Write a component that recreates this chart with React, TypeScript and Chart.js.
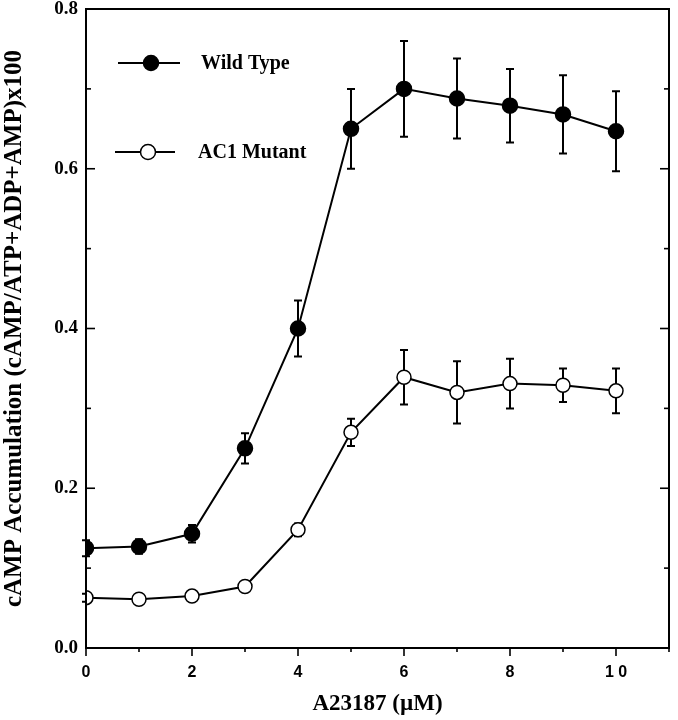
import React, { useEffect, useRef } from "react";
import { Chart, registerables } from "chart.js";

Chart.register(...registerables);

// ---- data ----
const doses = [0, 1, 2, 3, 4, 5, 6, 7, 8, 9, 10];
const wildType = [0.125, 0.127, 0.143, 0.25, 0.4, 0.65, 0.7, 0.688, 0.679, 0.668, 0.647];
const wildTypeErr = [0.01, 0.009, 0.011, 0.019, 0.035, 0.05, 0.06, 0.05, 0.046, 0.049, 0.05];
const mutant = [0.063, 0.061, 0.065, 0.077, 0.148, 0.27, 0.339, 0.32, 0.331, 0.329, 0.322];
const mutantErr = [0.005, 0.004, 0.004, 0.006, 0.008, 0.017, 0.034, 0.039, 0.031, 0.021, 0.028];
const seriesNames = ["Wild Type", "AC1 Mutant"];
const xTickLabels: Record<number, string> = { 0: "0", 2: "2", 4: "4", 6: "6", 8: "8", 10: "1 0" };
const xTitle = "A23187 (\u00B5M)";
const yTitle = "cAMP Accumulation (cAMP/ATP+ADP+AMP)x100";

const SERIF = "'Liberation Serif', 'Times New Roman', serif";
const SANS = "'Liberation Sans', Arial, sans-serif";

const errorBarPlugin = {
  id: "errorBars",
  beforeDatasetsDraw(chart: any) {
    const { ctx, scales } = chart;
    const ys = scales.y;
    ctx.save();
    ctx.strokeStyle = "#000";
    ctx.lineWidth = 2;
    chart.data.datasets.forEach((ds: any, di: number) => {
      const meta = chart.getDatasetMeta(di);
      const errs: number[] = ds.errors || [];
      meta.data.forEach((pt: any, i: number) => {
        const v = ds.data[i].y;
        const e = errs[i] || 0;
        const x = pt.x;
        const top = ys.getPixelForValue(v + e);
        const bot = ys.getPixelForValue(v - e);
        ctx.beginPath();
        ctx.moveTo(x, top);
        ctx.lineTo(x, bot);
        ctx.moveTo(x - 4, top);
        ctx.lineTo(x + 4, top);
        ctx.moveTo(x - 4, bot);
        ctx.lineTo(x + 4, bot);
        ctx.stroke();
      });
    });
    ctx.restore();
  },
};

const framePlugin = {
  id: "frame",
  afterDraw(chart: any) {
    const { ctx, chartArea: a, scales } = chart;
    const xs = scales.x;
    const ys = scales.y;
    ctx.save();
    ctx.strokeStyle = "#000";
    ctx.lineWidth = 2;
    ctx.strokeRect(a.left, a.top, a.right - a.left, a.bottom - a.top);
    ctx.lineWidth = 1.6;
    const line = (x1: number, y1: number, x2: number, y2: number) => {
      ctx.beginPath();
      ctx.moveTo(x1, y1);
      ctx.lineTo(x2, y2);
      ctx.stroke();
    };
    for (let i = 0; i <= 8; i++) {
      const py = ys.getPixelForValue(i / 10);
      const len = i % 2 === 0 ? 9 : 5;
      line(a.left, py, a.left + len, py);
      line(a.right, py, a.right - len, py);
    }
    for (let v = 0; v <= 11; v++) {
      const px = xs.getPixelForValue(v);
      const len = v % 2 === 0 ? 8 : 4;
      line(px, a.bottom, px, a.bottom + len);
    }

    // legend
    const drawEntry = (y: number, x1: number, x2: number, mx: number, tx: number, filled: boolean, label: string) => {
      ctx.lineWidth = 2;
      line(x1, y, x2, y);
      ctx.beginPath();
      ctx.arc(mx, y, 7.5, 0, Math.PI * 2);
      ctx.fillStyle = filled ? "#000" : "#fff";
      ctx.fill();
      ctx.lineWidth = 1.5;
      ctx.stroke();
      ctx.fillStyle = "#000";
      ctx.font = `bold 20px ${SERIF}`;
      ctx.textAlign = "left";
      ctx.textBaseline = "middle";
      ctx.fillText(label, tx, y + 1);
    };
    drawEntry(63, 118, 180, 151, 201, true, seriesNames[0]);
    drawEntry(152, 115, 175, 148, 198, false, seriesNames[1]);
    ctx.restore();
  },
};

export default function App() {
  const ref = useRef<HTMLCanvasElement | null>(null);
  useEffect(() => {
    document.body.style.margin = "0";
    const canvas = ref.current;
    if (!canvas) return;
    const chart = new Chart(canvas, {
      type: "scatter",
      data: {
        datasets: [
          {
            label: seriesNames[0],
            data: doses.map((x, i) => ({ x, y: wildType[i] })),
            errors: wildTypeErr,
            showLine: true,
            borderColor: "#000",
            borderWidth: 2,
            pointRadius: 7.5,
            pointBorderWidth: 1.5,
            pointBackgroundColor: "#000",
            pointBorderColor: "#000",
          } as any,
          {
            label: seriesNames[1],
            data: doses.map((x, i) => ({ x, y: mutant[i] })),
            errors: mutantErr,
            showLine: true,
            borderColor: "#000",
            borderWidth: 2,
            pointRadius: 7,
            pointBorderWidth: 1.5,
            pointBackgroundColor: "#fff",
            pointBorderColor: "#000",
          } as any,
        ],
      },
      options: {
        animation: false,
        responsive: false,
        maintainAspectRatio: false,
        layout: { padding: { top: 7, right: 6, left: 0, bottom: 0 } },
        plugins: { legend: { display: false }, tooltip: { enabled: false } },
        scales: {
          x: {
            type: "linear",
            min: 0,
            max: 11,
            grid: { display: false, drawTicks: false },
            border: { display: false },
            ticks: {
              stepSize: 1,
              autoSkip: false,
              maxRotation: 0,
              padding: 15,
              color: "#000",
              font: { family: SANS, size: 16, weight: "bold" },
              callback: (v: any) => xTickLabels[Math.round(Number(v))] ?? "",
            },
            title: {
              display: true,
              text: xTitle,
              color: "#000",
              font: { family: SERIF, size: 23, weight: "bold" },
              padding: { top: 0, bottom: 2 },
            },
            afterFit: (s: any) => {
              s.height = 72;
              s.paddingLeft = 0;
              s.paddingRight = 0;
            },
          },
          y: {
            min: 0,
            max: 0.8,
            grid: { display: false, drawTicks: false },
            border: { display: false },
            ticks: {
              stepSize: 0.1,
              autoSkip: false,
              padding: 8,
              color: "#000",
              font: { family: SERIF, size: 19, weight: "bold" },
              callback: (v: any) => {
                const n = Math.round(Number(v) * 10);
                return n % 2 === 0 ? (n / 10).toFixed(1) : "";
              },
            },
            title: {
              display: true,
              text: yTitle,
              color: "#000",
              font: { family: SERIF, size: 25, weight: "bold" },
              padding: { top: 0, bottom: 4 },
            },
            afterFit: (s: any) => {
              s.width = 86;
              s.paddingTop = 0;
              s.paddingBottom = 0;
            },
          },
        },
      } as any,
      plugins: [errorBarPlugin, framePlugin],
    });
    return () => chart.destroy();
  }, []);
  return (
    <div style={{ width: 678, height: 720, background: "#fff" }}>
      <canvas ref={ref} width={678} height={720} style={{ display: "block" }} />
    </div>
  );
}
